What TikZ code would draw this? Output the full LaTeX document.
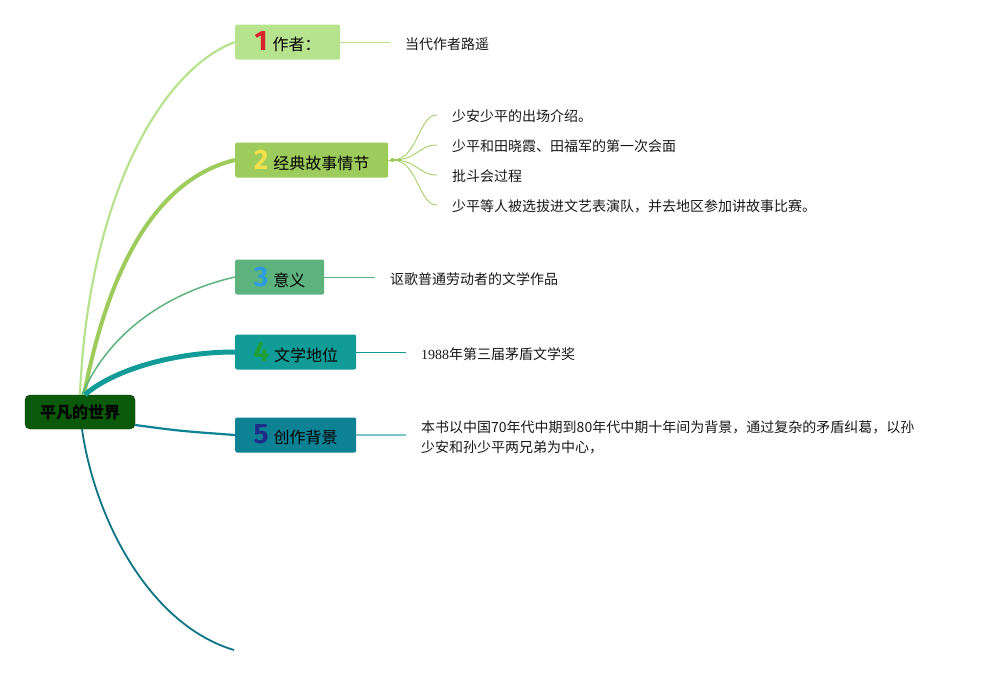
\documentclass[tikz,border=0pt]{standalone}
\usepackage{fontspec}
\setmainfont{Noto Sans CJK SC}
\newfontfamily\numfont{Fira Sans}
\newfontfamily\serifnum{Liberation Serif}
\definecolor{cA}{HTML}{B8E38E}
\definecolor{cB}{HTML}{9DCB5C}
\definecolor{cC}{HTML}{5DB37E}
\definecolor{cD}{HTML}{119C97}
\definecolor{cE}{HTML}{0D8294}
\definecolor{cF}{HTML}{0E7485}
\definecolor{cEl}{HTML}{7CC4CC}
\definecolor{rootc}{HTML}{0B5A0B}
\definecolor{rootd}{HTML}{063A06}
\definecolor{nA}{HTML}{D9232D}
\definecolor{nB}{HTML}{F4E04D}
\definecolor{nC}{HTML}{2C9BE0}
\definecolor{nD}{HTML}{1FA037}
\definecolor{nE}{HTML}{1D2D87}
\newcommand\bignum[2]{{\numfont\bfseries\fontsize{28}{28}\selectfont\color{#1}#2}}
\begin{document}
\begin{tikzpicture}[x=1pt,y=-1pt,
  box/.style={anchor=west, rounded corners=2pt, minimum height=35pt, inner sep=0pt, font=\fontsize{16}{18}\selectfont},
  leaf/.style={anchor=west, inner sep=0pt, text=black!90, font=\fontsize{14}{20}\selectfont}]
\useasboundingbox[fill=white] (0,0) rectangle (981,675);

% nodes
\node[fill=rootc, draw=rootd, rounded corners=5pt, minimum width=110pt, minimum height=34pt, inner sep=0pt, font=\bfseries\fontsize{16}{18}\selectfont] (root) at (80,412) {平凡的世界};
\node[box, fill=cA, minimum width=105pt] (n1) at (235,42) {\bignum{nA}{1}\hspace{5pt}作者：};
\node[box, fill=cB, minimum width=153pt] (n2) at (235,160) {\bignum{nB}{2}\hspace{5pt}经典故事情节};
\node[box, fill=cC, minimum width=89pt] (n3) at (235,277) {\bignum{nC}{3}\hspace{5pt}意义};
\node[box, fill=cD, minimum width=121pt] (n4) at (235,352) {\bignum{nD}{4}\hspace{5pt}文学地位};
\node[box, fill=cE, minimum width=121pt] (n5) at (235,435) {\bignum{nE}{5}\hspace{5pt}创作背景};
\coordinate (end6) at (234,650);

% main connectors
\draw[cA, line width=2.2pt] (root.north) .. controls (88,200) and (160,70) .. (n1.west);
\draw[cB, line width=4pt] ([xshift=4pt]root.north) .. controls (110,260) and (160,178) .. (n2.west);
\draw[cC, line width=1.5pt] ([xshift=2pt]root.north) .. controls (110,330) and (170,292) .. (n3.west);
\draw[cD, line width=5pt] ([xshift=5pt]root.north) .. controls (110,372) and (170,352) .. (n4.west);
\draw[cE, line width=2.2pt] ([yshift=-13pt]root.east) .. controls (180,431) .. (n5.west);
\draw[cF, line width=1.8pt] ([xshift=2pt]root.south) .. controls (95,520) and (150,625) .. (end6);

% leaves 1
\coordinate (e1) at (390,42);
\draw[cA, line width=0.8pt] (n1.east) -- (e1);
\node[leaf] (t1) at (405,44) {当代作者路遥};

% leaves 2
\fill[cB] ([xshift=4pt]n2.east) circle (2.2pt);
\coordinate (f0) at ([xshift=4pt]n2.east);
\coordinate (f1) at (437,115);
\coordinate (f2) at (437,145);
\coordinate (f3) at (437,175);
\coordinate (f4) at (437,205);
\draw[cB, line width=0.8pt] (n2.east) -- (f0);
\foreach \k in {1,2,3,4} {
  \draw[cB, line width=0.8pt] (f0) .. controls (418,160) and (418,160|-f\k) .. (f\k);
}
\node[leaf] (t21) at (452,116) {少安少平的出场介绍。};
\node[leaf] (t22) at (452,146) {少平和田晓霞、田福军的第一次会面};
\node[leaf] (t23) at (452,176) {批斗会过程};
\node[leaf] (t24) at (452,206) {少平等人被选拔进文艺表演队，并去地区参加讲故事比赛。};

% leaves 3
\coordinate (e3) at (375,277);
\draw[cC, line width=0.8pt] (n3.east) -- (e3);
\node[leaf] (t3) at (390,279) {讴歌普通劳动者的文学作品};

% leaves 4
\coordinate (e4) at (406,352);
\draw[cD, line width=0.8pt] (n4.east) -- (e4);
\node[leaf] (t4) at (421,354) {{\serifnum 1988}年第三届茅盾文学奖};

% leaves 5
\coordinate (e5) at (406,435);
\draw[cEl, line width=1.2pt] (n5.east) -- (e5);
\node[leaf, align=left] (t5) at (421,437) {本书以中国70年代中期到80年代中期十年间为背景，通过复杂的矛盾纠葛，以孙\\少安和孙少平两兄弟为中心，};
\end{tikzpicture}
\end{document}
